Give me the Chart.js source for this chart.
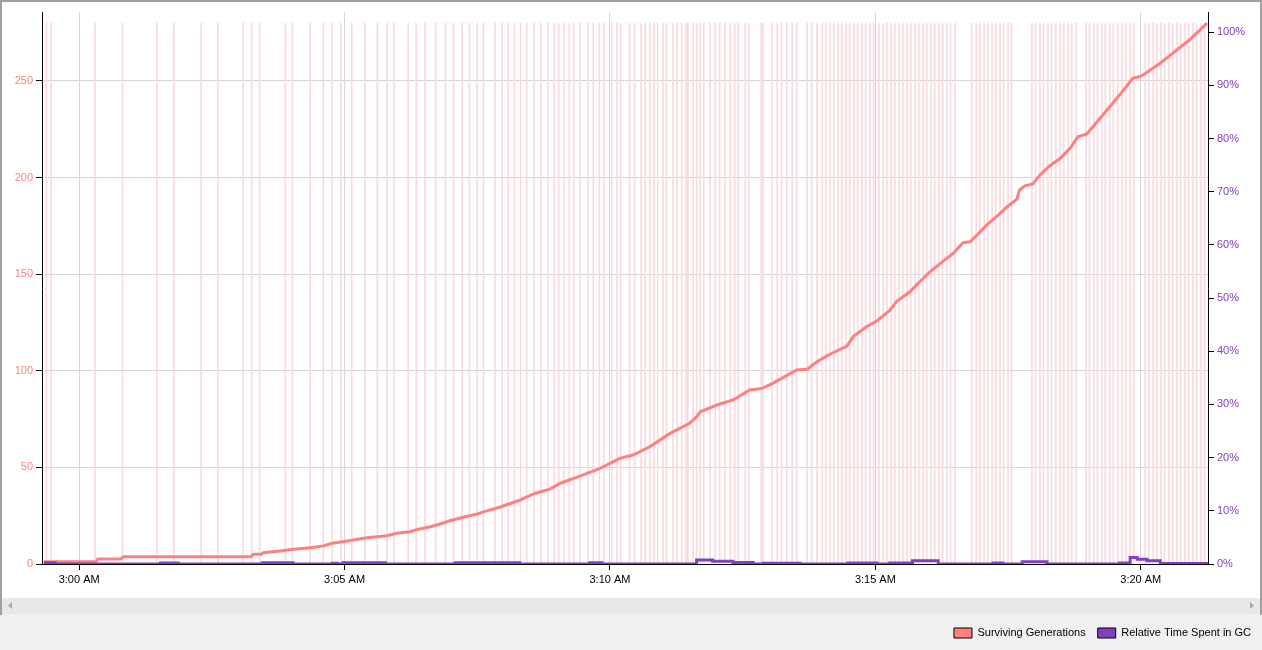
<!DOCTYPE html>
<html>
<head>
<meta charset="utf-8">
<script src="https://cdn.jsdelivr.net/npm/chart.js@4.4.1/dist/chart.umd.min.js"></script>
<style>
html,body{margin:0;padding:0;background:#f0f0f0;overflow:hidden}
#wrap{position:relative;width:1262px;height:650px}
canvas{display:block}
</style>
</head>
<body>
<div id="wrap"><canvas id="c" width="1262" height="650"></canvas></div>
<script>
// ---- Data (time in seconds after 3:00:00 AM) ----
const xMinSeconds = -42;
const xMaxSeconds = 1276;
const xTickSeconds = [0, 300, 600, 900, 1200];
const xTickLabels = ['3:00 AM', '3:05 AM', '3:10 AM', '3:15 AM', '3:20 AM'];

const genAxisMax = 285.7;
const genTicks = [0, 50, 100, 150, 200, 250];
const pctAxisMax = 103.8;
const pctTicks = [0, 10, 20, 30, 40, 50, 60, 70, 80, 90, 100];

// GC events (vertical markers)
const gcEventSeconds = [
  -37, -32, 18, 49, 88, 107, 138, 157, 185, 195, 204, 233, 241, 261, 276, 286, 296, 308, 323, 337,
  348, 356, 372, 381, 391, 403, 414, 423, 433, 441, 450, 457, 470, 478, 485, 492, 499, 506, 514, 522,
  530, 537, 542, 548, 554, 559, 566, 575, 581, 588, 593, 602, 608, 612, 622, 628, 635, 640, 645, 650,
  654, 660, 664, 671, 676, 681, 686, 688, 694, 698, 702, 706, 713, 719, 724, 730, 736, 741, 745, 753,
  757, 771, 773, 783, 789, 794, 800, 806, 811, 823, 828, 834,
  840, 844, 849, 853, 858, 862, 867, 871, 876, 880, 885, 889, 894, 898, 904, 909, 913, 918, 922, 927,
  931, 936, 940, 945, 949, 954, 958, 963, 967, 972, 976, 981, 985, 990,
  1009, 1014, 1018, 1023, 1027, 1032, 1036, 1041, 1045, 1050, 1054,
  1077, 1081, 1086, 1090, 1095, 1099, 1104, 1109, 1113, 1118, 1122, 1127,
  1138, 1142, 1147, 1151, 1156, 1160, 1165, 1169, 1174, 1179, 1183, 1188, 1192,
  1205, 1209, 1214, 1218, 1223, 1227, 1232, 1236, 1241, 1245, 1250, 1254, 1259, 1263, 1268, 1272
];

// Surviving Generations
const genSeconds = [
  -40, 19, 21, 47, 50, 194, 197, 206, 208, 227, 242, 261, 276, 286, 298, 310, 325, 348, 359, 374,
  382, 397, 408, 419, 434, 450, 457, 476, 498, 515, 532, 544, 566, 589, 600, 611, 626, 645, 668, 690,
  698, 702, 721, 739, 758, 772, 784, 811, 823, 834, 849, 868, 875, 890, 902, 916, 924, 939, 950, 962,
  976, 988, 999, 1007, 1015, 1026, 1037, 1049, 1060, 1063, 1069, 1078, 1086, 1097, 1109, 1120, 1129, 1139, 1146, 1154,
  1165, 1176, 1191, 1201, 1222, 1236, 1255, 1275
];
const genValues = [
  1.2, 1.2, 2.6, 2.6, 3.7, 3.7, 5.0, 5.0, 5.8, 6.7, 7.6, 8.4, 9.3, 10.7, 11.5, 12.4, 13.6, 14.6, 15.9, 16.7,
  17.9, 19.3, 20.7, 22.4, 24.2, 25.9, 27.0, 29.5, 33.0, 36.5, 38.7, 41.8, 45.5, 49.5, 52.1, 54.7, 56.4, 60.7, 67.6, 72.8,
  76.2, 78.8, 82.3, 84.9, 90.1, 90.9, 93.5, 100.4, 100.8, 104.7, 108.7, 112.8, 117.7, 122.8, 125.9, 131.1, 135.8, 140.9, 146.1, 151.3,
  156.5, 160.8, 166.3, 166.8, 170.3, 175.5, 179.8, 184.9, 188.8, 193.6, 195.7, 196.7, 201.3, 206.0, 210.0, 215.1, 221.1, 222.6, 226.3, 230.7,
  236.7, 242.7, 251.4, 252.6, 259.2, 264.3, 271.2, 280.0
];

// Relative Time Spent in GC (%)
const gcPctSeconds = [
  -40, -27, 92, 112, 207, 242, 286, 292, 298, 346, 425, 498, 577, 591, 698, 716, 739, 762, 773, 815,
  869, 902, 916, 942, 971, 1033, 1044, 1066, 1094, 1176, 1188, 1196, 1207, 1222, 1276
];
const gcPctValues = [
  0.25, 0, 0.2, 0, 0.25, 0, 0.15, 0, 0.25, 0, 0.25, 0, 0.25, 0, 0.75, 0.5, 0.3, 0, 0.15, 0,
  0.2, 0, 0.2, 0.6, 0, 0.2, 0, 0.4, 0, 0.2, 1.2, 0.9, 0.6, 0.1, 0.1
];

// ---- Styles ----
const FONT = '"Liberation Sans", Arial, sans-serif';
const GEN_COLOR = '#FF8080';
const PCT_COLOR = '#8040C0';
const MARK_COLOR = '#F9DADF';
const GRID_COLOR = '#d6d6d6';

Chart.defaults.font.family = FONT;
Chart.defaults.font.size = 11;

const framePlugin = {
  id: 'frame',
  beforeDraw(chart) {
    const c = chart.ctx, W = chart.width, H = chart.height;
    c.save();
    c.fillStyle = '#f0f0f0'; c.fillRect(0, 0, W, H);
    c.fillStyle = '#ffffff'; c.fillRect(2, 2, W - 4, 596);
    c.fillStyle = '#e8e8e8'; c.fillRect(2, 598, W - 4, 16);
    c.fillStyle = '#a0a0a0';
    c.fillRect(0, 0, W, 2);
    c.fillRect(0, 0, 2, 615);
    c.fillRect(W - 2, 0, 2, 615);
    c.fillStyle = '#a8a8a8';
    c.beginPath(); c.moveTo(8, 605.5); c.lineTo(12, 602); c.lineTo(12, 609); c.closePath(); c.fill();
    c.beginPath(); c.moveTo(W - 8, 605.5); c.lineTo(W - 12, 602); c.lineTo(W - 12, 609); c.closePath(); c.fill();
    c.restore();
  }
};

const markTop = Math.max(...genValues);

const chart = new Chart(document.getElementById('c').getContext('2d'), {
  data: {
    datasets: [
      {
        type: 'bar',
        label: 'GC Events',
        data: gcEventSeconds.map(s => ({ x: s, y: markTop })),
        yAxisID: 'yGen',
        backgroundColor: MARK_COLOR,
        borderWidth: 0,
        barThickness: 1,
        grouped: false,
        order: 3
      },
      {
        type: 'line',
        label: 'Surviving Generations',
        data: genSeconds.map((s, i) => ({ x: s, y: genValues[i] })),
        yAxisID: 'yGen',
        borderColor: GEN_COLOR,
        backgroundColor: GEN_COLOR,
        borderWidth: 3,
        pointRadius: 0,
        tension: 0,
        order: 2
      },
      {
        type: 'line',
        label: 'Relative Time Spent in GC',
        data: gcPctSeconds.map((s, i) => ({ x: s, y: gcPctValues[i] })),
        yAxisID: 'yPct',
        borderColor: PCT_COLOR,
        backgroundColor: PCT_COLOR,
        borderWidth: 3,
        pointRadius: 0,
        stepped: true,
        clip: { left: 2, top: 2, right: 2, bottom: 0 },
        order: 1
      }
    ]
  },
  options: {
    responsive: false,
    animation: false,
    devicePixelRatio: 1,
    layout: { padding: { left: 0, top: 12, right: -1, bottom: 1.5 } },
    plugins: {
      tooltip: { enabled: false },
      legend: {
        position: 'bottom',
        align: 'end',
        labels: {
          boxWidth: 18,
          boxHeight: 10,
          padding: 12,
          color: '#000',
          font: { size: 11, family: FONT },
          filter: item => item.text !== 'GC Events',
          sort: (a, b) => a.datasetIndex - b.datasetIndex,
          generateLabels(ch) {
            const items = Chart.defaults.plugins.legend.labels.generateLabels(ch);
            items.forEach(it => { it.strokeStyle = '#000'; it.lineWidth = 1; it.lineDash = []; });
            return items;
          }
        }
      }
    },
    scales: {
      x: {
        type: 'linear',
        position: 'bottom',
        min: xMinSeconds,
        max: xMaxSeconds,
        offset: false,
        afterBuildTicks(scale) { scale.ticks = xTickSeconds.map(v => ({ value: v })); },
        afterFit(scale) { scale.height = 51.5; },
        grid: { color: GRID_COLOR, tickColor: '#000', tickLength: 6, offset: false },
        border: { color: '#000', width: 1, z: 1 },
        ticks: {
          color: '#000',
          maxRotation: 0,
          autoSkip: false,
          padding: 3,
          callback(v) { const i = xTickSeconds.indexOf(v); return i >= 0 ? xTickLabels[i] : ''; }
        }
      },
      yGen: {
        type: 'linear',
        position: 'left',
        min: 0,
        max: genAxisMax,
        afterBuildTicks(scale) { scale.ticks = genTicks.map(v => ({ value: v })); },
        afterFit(scale) { scale.width = 42; },
        grid: { color: GRID_COLOR, tickColor: '#000', tickLength: 6 },
        border: { color: '#000', width: 1, z: 1 },
        ticks: { color: GEN_COLOR, padding: 3 }
      },
      yPct: {
        type: 'linear',
        position: 'right',
        min: 0,
        max: pctAxisMax,
        afterBuildTicks(scale) { scale.ticks = pctTicks.map(v => ({ value: v })); },
        afterFit(scale) { scale.width = 55; },
        grid: { drawOnChartArea: false, tickColor: '#000', tickLength: 6 },
        border: { color: '#000', width: 1, z: 1 },
        ticks: { color: PCT_COLOR, padding: 3, callback: v => v + '%' }
      }
    }
  },
  plugins: [framePlugin]
});
</script>
</body>
</html>
